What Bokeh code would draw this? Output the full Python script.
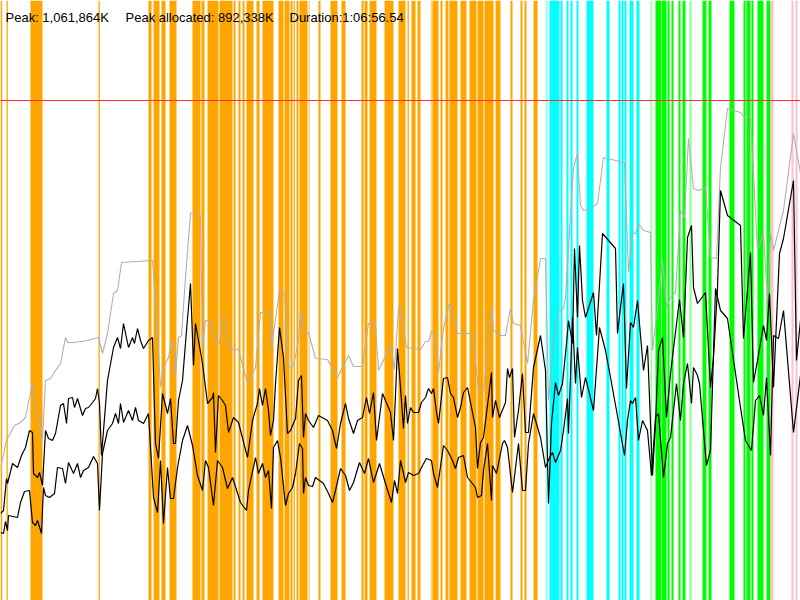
from bokeh.plotting import figure
from bokeh.models import ColumnDataSource, Range1d, Span, Label
from bokeh.embed import file_html
from bokeh.resources import INLINE

# ---------------- data ----------------
# phase bands along the time axis: start, end, kind
band_start = [0, 6, 30, 98, 148, 153, 161, 169, 192, 201, 207, 219, 233, 238, 242, 246, 256, 262,
              278, 284, 290, 293, 296, 299, 318, 330, 341, 361, 364, 369, 384, 398, 407, 411, 417,
              432, 440, 445, 449, 460, 469, 477, 484, 495, 510, 520, 524, 533,
              549, 560, 566, 570, 576, 586, 606, 618, 621, 624, 629, 636,
              655, 661, 667, 671, 678, 682, 702, 708, 729, 743, 746, 751, 757, 766,
              770, 791, 795]
band_end = [1.7, 7.3, 42, 99.3, 151, 159, 165, 176, 200, 204, 218, 232, 235, 240, 244, 253, 259, 273,
            283, 289, 292, 294.3, 298, 307, 320, 337, 345, 363, 367, 376, 393, 405, 408.3, 415, 420,
            438, 442, 448, 457, 466, 476, 483, 493, 500, 512, 522, 526, 537,
            559, 562, 568, 572, 578, 593, 609, 620, 623, 626, 633, 639,
            660.5, 666, 669, 673, 680, 685, 706, 711, 734, 745, 750, 753, 763, 770,
            773, 793, 797]
band_kind = (["gc"] * 48 + ["compile"] * 12 + ["io"] * 14 + ["other"] * 3)

faint_start = [308, 430, 545, 650, 689]
faint_end = [309.5, 432, 547, 651.3, 691]
faint_kind = ["gc", "gc", "compile", "io", "io"]

# memory curves (time, value)
total_t = [0, 6, 14, 20, 25, 32, 37, 42, 45, 50, 55, 60, 65, 67, 73, 87, 98, 102, 107, 113, 117, 121,
           152, 155, 160, 163, 168, 171, 173, 175, 178, 181, 185, 190, 192, 200, 202, 205, 210, 216,
           219, 222, 225, 228, 238, 247, 255, 260, 270, 271, 273, 279, 284, 288, 293, 298, 300, 303,
           308, 315, 327, 337, 348, 353, 362, 368, 375, 378, 390, 394, 398, 400, 406, 420, 425, 428,
           431, 434, 438, 443, 449, 453, 457, 472, 478, 483, 488, 491, 493, 500, 505, 510, 513, 520,
           527, 533, 540, 545, 548, 555, 558, 563, 565, 568, 573, 577, 580, 583, 590, 597, 603, 615,
           624, 628, 632, 635, 638, 643, 650, 652, 657, 662, 666, 670, 675, 680, 684, 688, 693, 698,
           705, 710, 716, 720, 727, 740, 743, 750, 757, 763, 767, 770, 773, 783, 793, 800]
total_v = [132, 160, 175, 178, 183, 218, 183, 162, 220, 222, 230, 237, 263, 258, 258, 260, 263, 247,
           267, 307, 310, 338, 340, 300, 213, 233, 243, 260, 253, 225, 263, 265, 323, 387, 388, 385,
           253, 280, 280, 257, 257, 282, 282, 252, 251, 217, 233, 288, 288, 252, 267, 310, 308, 233,
           235, 260, 290, 270, 268, 242, 241, 223, 245, 234, 234, 277, 277, 230, 255, 231, 293, 292,
           253, 251, 259, 259, 269, 266, 228, 272, 297, 283, 267, 267, 210, 210, 257, 293, 270, 265,
           265, 292, 277, 275, 237, 300, 342, 342, 200, 277, 288, 292, 303, 353, 433, 447, 395, 390,
           392, 397, 443, 440, 438, 328, 367, 367, 377, 370, 368, 250, 293, 340, 293, 303, 308, 390,
           383, 462, 412, 410, 413, 343, 342, 433, 492, 488, 484, 484, 350, 367, 300, 367, 350, 390,
           467, 427]

alloc_t = [0, 3, 6, 7, 12, 17, 21, 25, 29, 32, 33, 37, 39, 42, 45, 48, 52, 55, 60, 63, 66, 68, 72,
           74, 77, 82, 85, 88, 92, 95, 97, 99, 101, 107, 113, 117, 120, 123, 128, 132, 134, 137, 140,
           143, 148, 152, 155, 158, 162, 167, 170, 173, 175, 178, 182, 186, 190, 193, 195, 198, 202,
           207, 212, 213, 215, 218, 222, 225, 228, 233, 238, 247, 252, 257, 259, 262, 265, 268, 270,
           273, 275, 279, 283, 287, 290, 295, 298, 301, 303, 305, 308, 313, 318, 327, 332, 336, 340,
           345, 348, 353, 357, 362, 366, 369, 373, 376, 382, 390, 393, 397, 400, 403, 405, 407, 410,
           413, 418, 421, 425, 428, 431, 433, 436, 438, 443, 447, 450, 453, 457, 460, 463, 467, 473,
           475, 477, 480, 483, 487, 491, 492, 495, 499, 505, 507, 509, 512, 514, 518, 522, 525, 528,
           533, 540, 545, 548, 551, 555, 558, 562, 566, 568, 572, 574, 577, 579, 582, 585, 593, 596,
           602, 615, 617, 620, 623, 626, 630, 633, 637, 643, 647, 652, 655, 658, 662, 666, 670, 674,
           679, 683, 687, 691, 693, 697, 705, 710, 713, 717, 720, 727, 740, 743, 750, 753, 757, 763,
           766, 769, 773, 779, 783, 793, 796, 800]
alloc_v = [87, 90, 122, 117, 137, 133, 145, 153, 170, 168, 127, 123, 128, 115, 170, 162, 160, 167,
           195, 197, 177, 202, 203, 193, 202, 185, 192, 193, 198, 202, 212, 197, 145, 220, 253, 263,
           252, 277, 253, 263, 257, 272, 260, 252, 260, 263, 157, 142, 207, 187, 202, 157, 157, 200,
           220, 270, 317, 235, 277, 260, 237, 197, 203, 208, 148, 205, 200, 195, 168, 183, 178, 143,
           180, 197, 212, 195, 212, 190, 165, 180, 217, 273, 243, 167, 170, 182, 220, 225, 163, 187,
           180, 173, 185, 180, 170, 152, 177, 197, 182, 167, 180, 183, 203, 187, 208, 160, 207, 188,
           160, 252, 213, 172, 205, 177, 193, 188, 188, 198, 203, 212, 207, 212, 188, 177, 222, 223,
           207, 203, 183, 193, 208, 213, 183, 173, 132, 158, 163, 195, 228, 183, 200, 183, 198, 232,
           223, 232, 163, 190, 227, 168, 168, 233, 265, 230, 97, 177, 218, 205, 217, 257, 280, 257,
           352, 283, 355, 300, 283, 308, 265, 367, 352, 267, 293, 317, 212, 278, 273, 300, 230, 255,
           125, 177, 250, 263, 183, 227, 260, 301, 263, 363, 375, 313, 297, 308, 213, 243, 312, 410,
           385, 375, 262, 348, 218, 240, 275, 260, 307, 213, 347, 362, 420, 240, 280]

live_t = [0, 3, 5, 7, 8, 17, 20, 24, 29, 32, 35, 37, 41, 43, 45, 49, 54, 57, 62, 65, 68, 73, 77, 80,
          83, 88, 93, 97, 99, 102, 107, 112, 115, 118, 120, 123, 128, 132, 135, 138, 143, 148, 153,
          157, 160, 163, 167, 170, 173, 177, 182, 187, 192, 197, 202, 205, 208, 213, 217, 222, 227,
          232, 240, 246, 248, 255, 258, 262, 265, 268, 271, 273, 277, 280, 285, 288, 292, 295, 299,
          302, 303, 305, 308, 312, 315, 323, 328, 332, 335, 340, 345, 349, 353, 359, 364, 368, 373,
          379, 385, 391, 394, 397, 400, 403, 405, 408, 413, 418, 422, 426, 431, 433, 437, 443, 447,
          452, 455, 458, 463, 467, 475, 477, 481, 483, 487, 491, 492, 496, 502, 504, 507, 512, 518,
          522, 525, 528, 533, 540, 545, 549, 552, 555, 560, 563, 567, 568, 572, 575, 577, 581, 585,
          593, 599, 605, 610, 616, 624, 627, 630, 632, 635, 638, 642, 647, 651, 655, 658, 663, 667,
          670, 676, 680, 683, 687, 691, 693, 697, 699, 706, 710, 715, 720, 727, 740, 745, 751, 755,
          759, 763, 766, 770, 773, 778, 783, 793, 800]
live_v = [68, 67, 79, 70, 85, 83, 98, 109, 110, 78, 75, 80, 67, 113, 105, 103, 107, 133, 132, 117,
          138, 127, 137, 123, 130, 133, 144, 137, 90, 147, 170, 177, 187, 177, 197, 178, 190, 180,
          193, 180, 177, 187, 103, 88, 140, 77, 133, 102, 102, 133, 160, 175, 155, 125, 110, 140, 133,
          95, 140, 133, 112, 123, 98, 90, 110, 143, 127, 137, 123, 130, 92, 153, 160, 143, 95, 107,
          113, 127, 157, 152, 107, 123, 115, 114, 123, 117, 107, 98, 110, 132, 125, 110, 118, 138,
          127, 142, 118, 137, 117, 98, 120, 107, 140, 127, 118, 128, 125, 127, 135, 142, 140, 127,
          113, 155, 150, 140, 132, 143, 145, 123, 113, 103, 105, 130, 157, 100, 135, 127, 157, 160,
          153, 108, 157, 110, 110, 157, 187, 163, 133, 143, 148, 138, 150, 170, 202, 167, 283, 217,
          253, 203, 223, 190, 273, 250, 223, 190, 145, 180, 200, 197, 203, 160, 180, 170, 125, 183,
          187, 123, 157, 163, 217, 180, 217, 237, 197, 233, 225, 217, 135, 150, 312, 290, 282, 193,
          160, 150, 200, 205, 185, 223, 145, 265, 262, 290, 168, 225]

limit_value = 500
header = ["Peak: 1,061,864K", "Peak allocated: 892,338K", "Duration:1:06:56.54"]

# ---------------- figure ----------------
kind_color = {"gc": "#ffa500", "compile": "#00ffff", "io": "#00ff00", "other": "#ffc0cb"}

p = figure(width=800, height=600, output_backend="svg", toolbar_location=None,
           x_range=Range1d(0, 800), y_range=Range1d(0, 600), min_border=0)
p.axis.visible = False
p.grid.visible = False
p.outline_line_color = None
p.background_fill_color = "white"
p.border_fill_color = "white"

bands = ColumnDataSource(dict(left=band_start, right=band_end,
                              color=[kind_color[k] for k in band_kind]))
p.quad(left="left", right="right", bottom=0, top=600, fill_color="color",
       line_color=None, source=bands)
faint = ColumnDataSource(dict(left=faint_start, right=faint_end,
                              color=[kind_color[k] for k in faint_kind]))
p.quad(left="left", right="right", bottom=0, top=600, fill_color="color",
       fill_alpha=0.45, line_color=None, source=faint)

p.line(total_t, total_v, line_color="#b0b0b0", line_width=1.1)
p.line(alloc_t, alloc_v, line_color="black", line_width=1.2)
p.line(live_t, live_v, line_color="black", line_width=1.2)

p.add_layout(Span(location=limit_value, dimension="width", line_color="#ff3030",
                  line_width=1.2))

for txt, xpos in zip(header, [5, 125, 289]):
    p.add_layout(Label(x=xpos, y=583, text=txt, text_font="Liberation Sans",
                       text_font_size="13px", text_color="black",
                       text_baseline="alphabetic"))

open("out.html", "w").write(file_html(p, INLINE))
